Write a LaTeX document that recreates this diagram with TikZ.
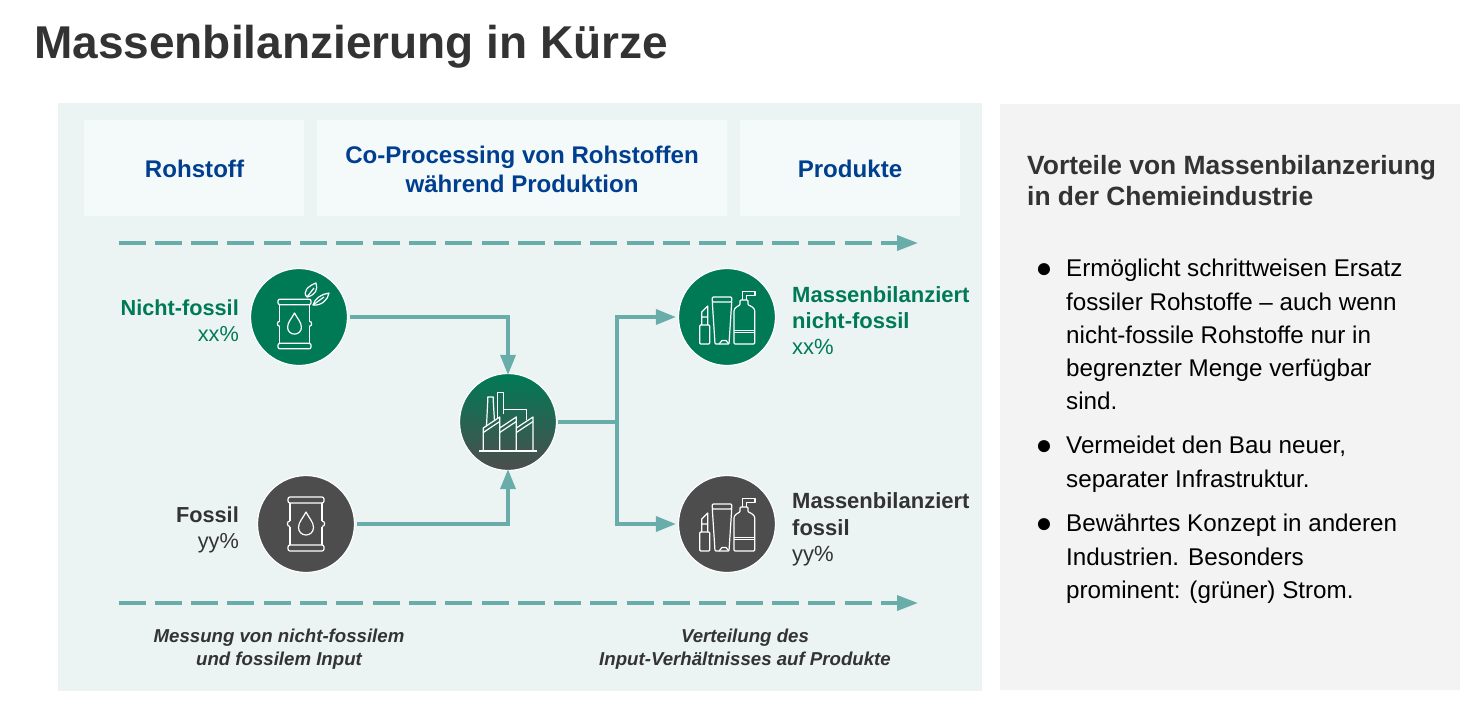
\documentclass[tikz,border=0pt]{standalone}
\usepackage{fontspec}
\setmainfont{Liberation Sans}
\usetikzlibrary{arrows.meta,positioning}

\definecolor{panelgreen}{HTML}{EBF4F3}
\definecolor{headbox}{HTML}{F4F9F9}
\definecolor{panelgray}{HTML}{F3F3F3}
\definecolor{flowteal}{HTML}{69ADAA}
\definecolor{nfgreen}{HTML}{007A55}
\definecolor{fossgray}{HTML}{4D4D4D}
\definecolor{headblue}{HTML}{003F8F}
\definecolor{txtdark}{HTML}{333333}

\tikzset{
    flow/.style={draw=flowteal, line width=3.5pt, -{Triangle[length=20pt,width=15pt]}},
    flowplain/.style={draw=flowteal, line width=3.5pt},
    timeline/.style={draw=flowteal, line width=3.5pt, dash pattern=on 27pt off 9.3pt, -{Triangle[length=21pt,width=15pt]}},
    disc/.style={circle, minimum size=97pt, inner sep=0pt, draw=white, line width=1.2pt},
    headnode/.style={inner sep=0pt, align=center, text=headblue, font=\fontsize{24.1}{29}\selectfont\bfseries},
    lbl/.style={inner sep=0pt, font=\fontsize{22}{26.5}\selectfont},
    lblleft/.style={lbl, anchor=base east, font=\fontsize{21.7}{26.5}\selectfont},
    caption/.style={inner sep=0pt, align=center, text=txtdark, font=\fontsize{18.65}{23}\selectfont\bfseries\itshape},
    bodytext/.style={inner sep=0pt, anchor=north west, align=left, text=black, font=\fontsize{24.2}{33.3}\selectfont},
    bulletmark/.style={inner sep=0pt, text=black, font=\fontsize{28}{28}\selectfont},
    icon/.style={draw=white, line width=1.2pt, line join=round, rounded corners=1pt},
    sharp/.style={icon, rounded corners=0pt},
    pics/barrel/.style={code={
        \draw[icon, rounded corners=2pt] (-18,-27) rectangle (18,-21);
        \draw[icon, rounded corners=2pt] (-18,21) rectangle (18,27);
        \draw[icon] (-16,-21) -- (-16,-3) (16,-21) -- (16,-3) (-16,2.5) -- (-16,21) (16,2.5) -- (16,21);
        \draw[sharp] (-16,-3) .. controls (-19.5,-3) and (-19.5,2.5) .. (-16,2.5) (16,-3) .. controls (19.5,-3) and (19.5,2.5) .. (16,2.5);
        \draw[sharp] (0,-12) .. controls (-3,-6) and (-7.5,-2) .. (-7.5,3.5) .. controls (-7.5,8) and (-4,11) .. (0,11) .. controls (4,11) and (7.5,8) .. (7.5,3.5) .. controls (7.5,-2) and (3,-6) .. (0,-12) -- cycle;
    }},
    pics/leaves/.style={code={
        \draw[sharp] (-9,2) .. controls (-14,-3) and (-8,-9) .. (0,-12) .. controls (2,-6) and (0,0) .. (-9,2) -- cycle;
        \draw[sharp] (-9,2) -- (-2,-7);
        \draw[sharp] (-3,10) .. controls (-1,3) and (6,-1) .. (13,-2) .. controls (12,5) and (5,11) .. (-3,10) -- cycle;
        \draw[sharp] (-3,10) -- (8,2);
    }},
    pics/factory/.style={code={
        \draw[icon] (-29,29) -- (29,29);
        \draw[sharp] (-24.7,29) -- (-24.7,6) -- (-8.3,-5) -- (-8.3,29) (-8.3,6) -- (8.3,-5) -- (8.3,29) (8.3,6) -- (25,-5) -- (25,29);
        \draw[sharp] (-24.7,10.5) -- (-8.3,-0.5) (-8.3,10.5) -- (8.3,-0.5) (8.3,10.5) -- (25,-0.5);
        \draw[sharp] (-21.5,4) -- (-20.3,-20) -- (-20.3,-25) -- (-14.7,-25) -- (-14.7,-20) -- (-13.5,-1);
        \draw[sharp] (-10.7,-3) -- (-10.7,-29.3) -- (-4.7,-29.3) -- (-4.7,-8);
        \draw[sharp] (-4.7,-12.7) -- (18.7,-12.7) -- (18.7,-2);
    }},
    pics/products/.style={code={
        % lipstick
        \draw[icon] (-27.3,8) rectangle (-17.3,27);
        \draw[sharp] (-25.3,8) -- (-25.3,-5) -- (-19.3,-11) -- (-19.3,8) (-25.3,0) -- (-19.3,0);
        % tube
        \draw[icon] (-14.7,-20) rectangle (4.7,-15);
        \draw[icon] (-14.7,-15) -- (-12,27) -- (2,27) -- (4.7,-15);
        \draw[sharp] (-8,27) -- (-5,23.5) -- (-1,23.5) -- (2,27);
        % pump bottle
        \draw[icon] (7,-5) .. controls (7,-9) and (11,-11) .. (13,-12) -- (13,-17) -- (21,-17) -- (21,-12) .. controls (24,-11) and (27.7,-9) .. (27.7,-5) -- (27.7,27) -- (7,27) -- cycle;
        \draw[sharp] (7,13.3) -- (27.7,13.3) (7,15.3) -- (27.7,15.3);
        \draw[sharp] (15.5,-17) -- (15.5,-25.5) -- (28,-25.5) -- (28,-21.5) -- (19.5,-21.5) -- (19.5,-17);
    }},
}

\begin{document}
\begin{tikzpicture}[x=1pt, y=-1pt]
\useasboundingbox (0,0) rectangle (1474,709);
\fill[white] (0,0) rectangle (1474,709);

% Title
\node[anchor=base west, inner sep=0pt, text=txtdark, font=\fontsize{46}{50}\selectfont\bfseries] (title) at (34,58.5) {Massenbilanzierung in Kürze};

% Panels
\fill[panelgreen] (58,103) rectangle (982,691);
\fill[panelgray] (1000,104) rectangle (1460,690);

% Header boxes
\node[fill=headbox, minimum width=220pt, minimum height=96pt] (headraw) at (194,168) {};
\node[fill=headbox, minimum width=410pt, minimum height=96pt] (headco) at (522,168) {};
\node[fill=headbox, minimum width=220pt, minimum height=96pt] (headprod) at (850,168) {};
\node[headnode] (rawtxt) at (194.5,169) {Rohstoff};
\node[headnode] (cotxt) at (522,169) {Co-Processing von Rohstoffen\\während Produktion};
\node[headnode] (prodtxt) at (850,169) {Produkte};

% Dashed time lines
\coordinate (topa) at (118.5,243);
\coordinate (topb) at (918,243);
\coordinate (bota) at (118.5,603);
\coordinate (botb) at (918,603);
\draw[timeline] (topa) -- (topb);
\draw[timeline] (bota) -- (botb);

% Discs
\node[disc, fill=nfgreen] (nf) at (299,317) {};
\node[disc, fill=fossgray] (fo) at (306,524) {};
\node[disc, top color=nfgreen, bottom color=fossgray] (fac) at (508,422) {};
\node[disc, fill=nfgreen] (pnf) at (727,317) {};
\node[disc, fill=fossgray] (pfo) at (727,524) {};

% Icons
\pic[scale=0.92] at (294.5,324) {barrel};
\pic at (316,295) {leaves};
\pic at (306,524) {barrel};
\pic at (508,422) {factory};
\pic at (727,317) {products};
\pic at (727,524) {products};

% Connectors
\coordinate (branch) at (617,422);
\draw[flow] ([xshift=2pt]nf.east) -| ([yshift=-2pt]fac.north);
\draw[flow] ([xshift=2pt]fo.east) -| ([yshift=2pt]fac.south);
\draw[flowplain] ([xshift=1pt]fac.east) -- (branch);
\draw[flow] (branch) |- ([xshift=-2pt]pnf.west);
\draw[flow] (branch) |- ([xshift=-2pt]pfo.west);

% Labels left
\node[lblleft, text=nfgreen] (nfa) at (239,315) {\bfseries Nicht-fossil};
\node[lblleft, text=nfgreen] (nfb) at (239,341) {xx\%};
\node[lblleft, text=txtdark] (foa) at (239,522) {\bfseries Fossil};
\node[lblleft, text=txtdark] (fob) at (239,548) {yy\%};

% Labels right
\node[lbl, anchor=base west, text=nfgreen] (pnfa) at (792,302) {\bfseries Massenbilanziert};
\node[lbl, anchor=base west, text=nfgreen] (pnfb) at (792,328) {\bfseries nicht-fossil};
\node[lbl, anchor=base west, text=nfgreen] (pnfc) at (792,354) {xx\%};
\node[lbl, anchor=base west, text=txtdark] (pfoa) at (792,508) {\bfseries Massenbilanziert};
\node[lbl, anchor=base west, text=txtdark] (pfob) at (792,535) {\bfseries fossil};
\node[lbl, anchor=base west, text=txtdark] (pfoc) at (792,561) {yy\%};

% Captions
\node[caption] (capa) at (279,649) {Messung von nicht-fossilem\\und fossilem Input};
\node[caption] (capb) at (745,649) {Verteilung des\\Input-Verhältnisses auf Produkte};

% Right panel
\node[inner sep=0pt, anchor=north west, align=left, text=txtdark, font=\fontsize{26.4}{31.5}\selectfont\bfseries] (advhead) at (1027,155) {Vorteile von Massenbilanzeriung\\in der Chemieindustrie};
\foreach \y/\name in {271/a, 448/b, 526/c} {
    \node[bulletmark] (bul\name) at (1044,\y) {●};
}
\node[bodytext] (adva) at (1066,259) {Ermöglicht schrittweisen Ersatz\\fossiler Rohstoffe – auch wenn\\nicht-fossile Rohstoffe nur in\\begrenzter Menge verfügbar\\sind.};
\node[bodytext] (advb) at (1066,436) {Vermeidet den Bau neuer,\\separater Infrastruktur.};
\node[bodytext] (advc) at (1066,514) {Bewährtes Konzept in anderen\\Industrien. Besonders\\prominent: (grüner) Strom.};

\end{tikzpicture}
\end{document}
